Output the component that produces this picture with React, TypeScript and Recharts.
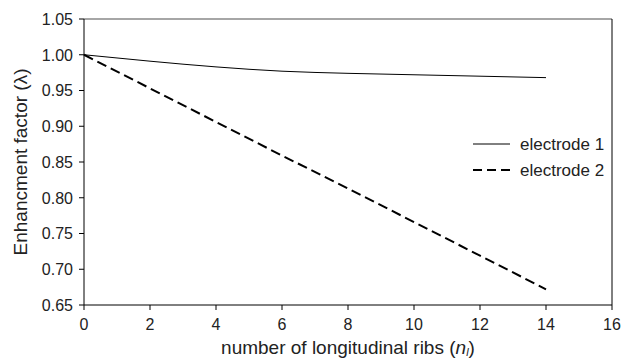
import { LineChart, Line, XAxis, YAxis, ReferenceLine } from 'recharts';

const ribs = [0, 2, 4, 6, 8, 10, 12, 14];
const electrode1 = [1.0, 0.991, 0.983, 0.977, 0.974, 0.972, 0.970, 0.968];
const electrode2 = [1.0, 0.953, 0.906, 0.859, 0.813, 0.766, 0.719, 0.672];
const xTicks = [0, 2, 4, 6, 8, 10, 12, 14, 16];
const yTicks = [0.65, 0.7, 0.75, 0.8, 0.85, 0.9, 0.95, 1.0, 1.05];

const data = ribs.map((n, i) => ({ n, e1: electrode1[i], e2: electrode2[i] }));

const FONT = '"Liberation Sans", Arial, sans-serif';

function XTick(props: any) {
  const { x, y, payload } = props;
  return (
    <text x={x} y={y} dy="0.71em" textAnchor="middle" fontSize={16} fontFamily={FONT} fill="#222">
      {payload.value}
    </text>
  );
}

function YTick(props: any) {
  const { x, y, payload } = props;
  return (
    <text x={x} y={y} dy="0.36em" textAnchor="end" fontSize={16} fontFamily={FONT} fill="#222">
      {Number(payload.value).toFixed(2)}
    </text>
  );
}

function LegendBox() {
  return (
    <svg width={150} height={50} style={{ position: 'absolute', left: 470, top: 132 }}>
      <line x1={3} y1={12} x2={40} y2={12} stroke="#000" strokeWidth={1} />
      <text x={50} y={18} fontSize={17} fontFamily={FONT} fill="#222">electrode 1</text>
      <line x1={3} y1={38} x2={40} y2={38} stroke="#000" strokeWidth={2} strokeDasharray="9 5" />
      <text x={50} y={44} fontSize={17} fontFamily={FONT} fill="#222">electrode 2</text>
    </svg>
  );
}

export default function App() {
  return (
    <div style={{ position: 'absolute', left: 0, top: 0, width: 624, height: 360, background: '#fff' }}>
      <LineChart width={624} height={360} data={data} margin={{ top: 19, right: 12, bottom: 25, left: 0 }}>
        <XAxis
          dataKey="n"
          type="number"
          domain={[0, 16]}
          ticks={xTicks}
          stroke="#000"
          tickSize={5}
          tickMargin={9}
          tick={<XTick />}
          label={(props: any) => {
            const vb = props.viewBox;
            return (
              <text x={vb.x + vb.width / 2} y={vb.y + 49} textAnchor="middle" fontSize={19} fontFamily={FONT} fill="#222">
                number of longitudinal ribs (<tspan fontStyle="italic">n</tspan>
                <tspan fontStyle="italic" fontSize={11} dy={2}>l</tspan>
                <tspan dy={-2}>)</tspan>
              </text>
            );
          }}
        />
        <YAxis
          type="number"
          domain={[0.65, 1.05]}
          ticks={yTicks}
          width={84}
          stroke="#000"
          tickSize={5}
          tickMargin={6}
          tick={<YTick />}
          label={(props: any) => {
            const vb = props.viewBox;
            const cx = 27;
            const cy = vb.y + vb.height / 2;
            return (
              <text x={cx} y={cy} transform={`rotate(-90 ${cx} ${cy})`} textAnchor="middle" fontSize={19} fontFamily={FONT} fill="#222">
                Enhancment factor (λ)
              </text>
            );
          }}
        />
        <ReferenceLine y={1.05} stroke="#888" strokeWidth={1.5} />
        <ReferenceLine x={16} stroke="#000" strokeWidth={1} />
        <Line
          type="monotone"
          dataKey="e1"
          stroke="#000"
          strokeWidth={1}
          dot={false}
          isAnimationActive={false}
        />
        <Line
          type="linear"
          dataKey="e2"
          stroke="#000"
          strokeWidth={2}
          strokeDasharray="10 5"
          dot={false}
          isAnimationActive={false}
        />
      </LineChart>
      <LegendBox />
    </div>
  );
}
